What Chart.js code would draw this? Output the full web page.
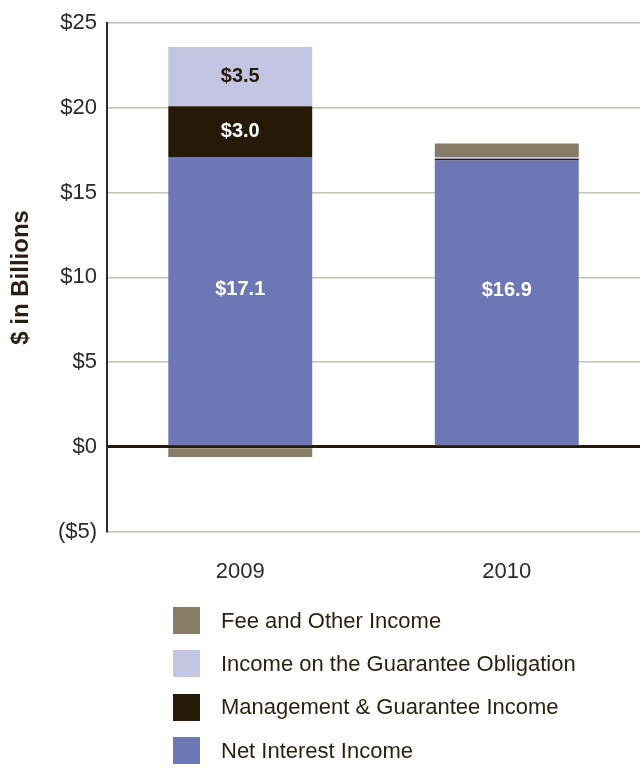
<!DOCTYPE html>
<html>
<head>
<meta charset="utf-8">
<script src="https://cdn.jsdelivr.net/npm/chart.js@4.4.1/dist/chart.umd.min.js"></script>
<style>
  body { margin: 0; background: #fff; }
  #wrap { position: relative; width: 641px; height: 768px; }
  #chart { position: absolute; left: 0; top: 0; }
  #legend { position: absolute; left: 173px; top: 599px; font: 22px "Liberation Sans", Arial, sans-serif; color: #2a1f10; }
  .item { display: flex; align-items: center; height: 43.3px; }
  .sw { width: 27px; height: 27px; margin-right: 21px; }
</style>
</head>
<body>
<div id="wrap">
  <canvas id="chart" width="641" height="620"></canvas>
  <div id="legend"></div>
</div>
<script>
  const years = ['2009', '2010'];

  // stacked bottom to top
  const netInterest = [17.1, 16.9];
  const mgmtGuarantee = [3.0, 0.1];
  const guaranteeObligation = [3.5, 0.1];
  const feeOther = [-0.6, 0.8];

  const yTicks = { min: -5, max: 25, step: 5 };

  const series = [
    { label: 'Net Interest Income', data: netInterest, color: '#6e77b5', text: '#ffffff', shift: -12 },
    { label: 'Management & Guarantee Income', data: mgmtGuarantee, color: '#261a07', text: '#ffffff', shift: 0 },
    { label: 'Income on the Guarantee Obligation', data: guaranteeObligation, color: '#c4c5e2', text: '#261a07', shift: 0 },
    { label: 'Fee and Other Income', data: feeOther, color: '#877c65', text: '#ffffff', shift: 0 },
  ];

  const money = (v) => (v < 0 ? `($${-v})` : `$${v}`);

  // draws the value inside the larger segments
  const segmentLabels = {
    id: 'segmentLabels',
    afterDatasetsDraw(chart) {
      const ctx = chart.ctx;
      ctx.save();
      ctx.font = 'bold 20px "Liberation Sans", Arial, sans-serif';
      ctx.textAlign = 'center';
      ctx.textBaseline = 'middle';
      chart.data.datasets.forEach((ds, i) => {
        chart.getDatasetMeta(i).data.forEach((bar, j) => {
          const v = ds.data[j];
          if (Math.abs(v) < 1) return;
          ctx.fillStyle = series[i].text;
          ctx.fillText('$' + v.toFixed(1), bar.x, (bar.y + bar.base) / 2 + series[i].shift);
        });
      });
      ctx.restore();
    },
  };

  new Chart(document.getElementById('chart'), {
    type: 'bar',
    data: {
      labels: years,
      datasets: series.map((s) => ({
        label: s.label,
        data: s.data,
        backgroundColor: s.color,
        borderWidth: 0,
        categoryPercentage: 1,
        barPercentage: 0.54,
      })),
    },
    options: {
      responsive: false,
      animation: false,
      layout: { padding: { top: 23, right: 1, bottom: 8, left: 0 } },
      plugins: {
        legend: { display: false },
        tooltip: { enabled: false },
      },
      scales: {
        x: {
          stacked: true,
          grid: { display: false, drawTicks: false },
          border: { display: false },
          ticks: {
            color: '#2a2a2a',
            padding: 27,
            font: { family: '"Liberation Sans", Arial, sans-serif', size: 22 },
          },
        },
        y: {
          stacked: true,
          min: yTicks.min,
          max: yTicks.max,
          afterFit(scale) { scale.width = 107; },
          ticks: {
            stepSize: yTicks.step,
            color: '#2a2a2a',
            padding: 10,
            font: { family: '"Liberation Sans", Arial, sans-serif', size: 22 },
            callback: (v) => money(v),
          },
          grid: {
            drawTicks: false,
            color: (c) => (c.tick && c.tick.value === 0 ? '#261a07' : '#c6c0b3'),
            lineWidth: (c) => (c.tick && c.tick.value === 0 ? 3 : 1.5),
          },
          border: { display: true, color: '#2b2b2b', width: 2 },
          title: {
            display: true,
            text: '$ in Billions',
            color: '#2a1f10',
            padding: { top: 7, bottom: 0 },
            font: { family: '"Liberation Sans", Arial, sans-serif', size: 24, weight: 'bold' },
          },
        },
      },
    },
    plugins: [segmentLabels],
  });

  // legend lists the series top of stack first
  const legend = document.getElementById('legend');
  series.slice().reverse().forEach((s) => {
    const row = document.createElement('div');
    row.className = 'item';
    row.innerHTML = `<span class="sw" style="background:${s.color}"></span><span>${s.label}</span>`;
    legend.appendChild(row);
  });
</script>
</body>
</html>
